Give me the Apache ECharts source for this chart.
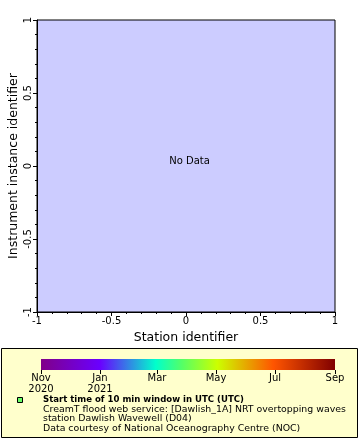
<!DOCTYPE html>
<html><head><meta charset="utf-8">
<script src="https://cdn.jsdelivr.net/npm/echarts@6/dist/echarts.min.js"></script>
<style>html,body{margin:0;padding:0;background:#fff}#c{width:360px;height:440px}</style>
</head><body><div id="c"></div>
<script>
const xRange = [-1, 1];
const yRange = [-1, 1];
const xName = 'Station identifier';
const yName = 'Instrument instance identifier';
const noDataText = 'No Data';
const cbStart = Date.UTC(2020, 10, 1);
const cbEnd = Date.UTC(2021, 8, 1);
const cbTicks = [Date.UTC(2020,10,1), Date.UTC(2021,0,1), Date.UTC(2021,2,1), Date.UTC(2021,4,1), Date.UTC(2021,6,1), Date.UTC(2021,8,1)];
const cbTickLabels = ['Nov\n2020', 'Jan\n2021', 'Mar', 'May', 'Jul', 'Sep'];
const cbColors = ['#800088', '#6a00ff', '#00ffcc', '#55ff66', '#ccff00', '#ff5500', '#800000'];
const cbStops = [0, 0.2, 0.39, 0.48, 0.6, 0.79, 1];
const legendLines = ['CreamT flood web service: [Dawlish_1A] NRT overtopping waves', 'station Dawlish Wavewell (D04)', 'Data courtesy of National Oceanography Centre (NOC)'];
const legendTitle = 'Start time of 10 min window in UTC (UTC)';

const FONT = 'DejaVu Sans';
const chart = echarts.init(document.getElementById('c'), null, {renderer: 'canvas'});
const labelMap = {};
cbTicks.forEach((t, i) => labelMap[t] = cbTickLabels[i]);

chart.setOption({
  animation: false,
  textStyle: {fontFamily: FONT},
  grid: [
    {left: 37, top: 20, width: 298, height: 292, show: true, backgroundColor: '#ccccff', borderColor: '#000', borderWidth: 1, outerBoundsMode: 'none', containLabel: false},
    {left: 41, top: 359, width: 294, height: 11, show: false, outerBoundsMode: 'none', containLabel: false}
  ],
  xAxis: [
    {gridIndex: 0, type: 'value', min: xRange[0], max: xRange[1], interval: 0.5,
     name: xName, nameLocation: 'middle', nameGap: 19, nameMoveOverlap: false, nameTextStyle: {fontSize: 12.5, color: '#000', fontFamily: FONT},
     axisLine: {show: true, onZero: false, lineStyle: {color: '#000'}},
     axisTick: {show: true, length: 4, lineStyle: {color: '#000'}},
     minorTick: {show: true, splitNumber: 5, length: 2, lineStyle: {color: '#000'}},
     splitLine: {show: false},
     axisLabel: {fontSize: 10, color: '#000', margin: 4, fontFamily: FONT, hideOverlap: false, formatter: v => String(v)}},
    {gridIndex: 1, type: 'value', min: cbStart, max: cbEnd,
     axisLine: {show: false, onZero: false},
     axisTick: {show: true, length: 4, customValues: cbTicks, lineStyle: {color: '#000'}},
     splitLine: {show: false},
     axisLabel: {fontSize: 10, color: '#000', margin: 3, lineHeight: 11, fontFamily: FONT, hideOverlap: false, customValues: cbTicks, formatter: v => labelMap[v] || ''}}
  ],
  yAxis: [
    {gridIndex: 0, type: 'value', min: yRange[0], max: yRange[1], interval: 0.5,
     name: yName, nameLocation: 'middle', nameGap: 17, nameMoveOverlap: false, nameTextStyle: {fontSize: 12.5, color: '#000', fontFamily: FONT},
     axisLine: {show: true, onZero: false, lineStyle: {color: '#000'}},
     axisTick: {show: true, length: 4, lineStyle: {color: '#000'}},
     minorTick: {show: true, splitNumber: 5, length: 2, lineStyle: {color: '#000'}},
     splitLine: {show: false},
     axisLabel: {fontSize: 10, color: '#000', margin: 4, rotate: 90, fontFamily: FONT, hideOverlap: false, formatter: v => String(v)}},
    {gridIndex: 1, type: 'value', min: 0, max: 1, show: false}
  ],
  graphic: [
    {type: 'rect', z: -10, shape: {x: 1.5, y: 348.5, width: 356, height: 89}, style: {fill: '#ffffcc', stroke: '#000', lineWidth: 1}},
    {type: 'rect', shape: {x: 17.5, y: 397.5, width: 5, height: 5}, style: {fill: '#66ff66', stroke: '#000', lineWidth: 1}},
    {type: 'text', x: 43, y: 395, style: {text: legendTitle, font: 'bold 9.5px "DejaVu Sans Condensed", "DejaVu Sans"', fill: '#000'}},
    {type: 'text', x: 43, y: 405, style: {text: legendLines.join('\n'), font: '9.4px "DejaVu Sans"', lineHeight: 9.3, fill: '#000'}},
    {type: 'text', x: 189.5, y: 161, style: {text: noDataText, font: '10px "DejaVu Sans"', fill: '#000', align: 'center', verticalAlign: 'middle'}}
  ],
  series: [
    {type: 'custom', xAxisIndex: 1, yAxisIndex: 1, data: [[cbStart, cbEnd]],
     renderItem: (params, api) => {
       const p0 = api.coord([api.value(0), 1]);
       const p1 = api.coord([api.value(1), 0]);
       return {type: 'rect', shape: {x: p0[0], y: p0[1], width: p1[0] - p0[0], height: p1[1] - p0[1]},
         style: {fill: new echarts.graphic.LinearGradient(0, 0, 1, 0, cbColors.map((c, i) => ({offset: cbStops[i], color: c})))}};
     }}
  ]
});
</script></body></html>
